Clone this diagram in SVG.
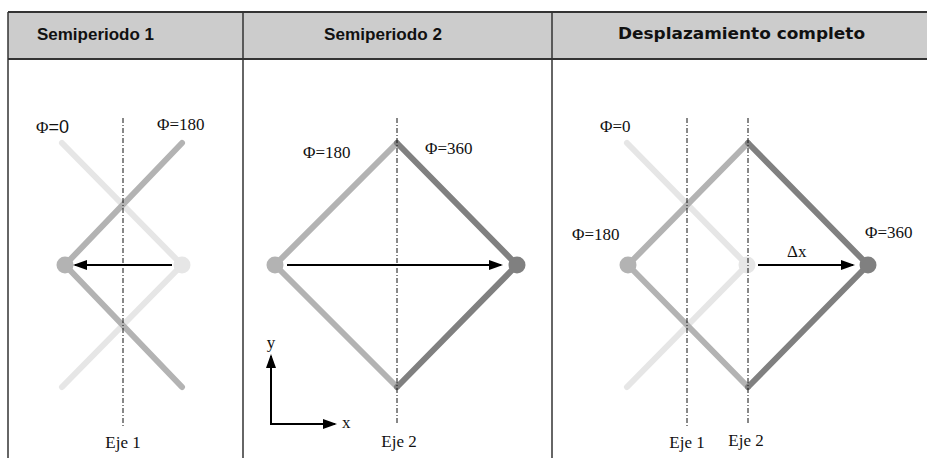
<svg xmlns="http://www.w3.org/2000/svg" width="927" height="458" viewBox="0 0 927 458">
<style>
.frame{stroke:#333;stroke-width:1.5;fill:none}
.hdr{font-family:"Liberation Sans",Arial,sans-serif;font-weight:bold;font-size:16.5px;fill:#111}
.hdr2{font-family:"DejaVu Sans",sans-serif;font-weight:bold;font-size:16px;fill:#111}
.lab{font-family:"Liberation Serif","Times New Roman",serif;font-size:17px;fill:#111}
.axis{stroke:#111;stroke-width:1;stroke-dasharray:5 2 1 2;fill:none}
.bar{stroke-width:6;stroke-linecap:round;stroke-linejoin:round;fill:none}
.l{stroke:#e6e6e6}.m{stroke:#b3b3b3}.d{stroke:#808080}
.arr{stroke:#000;stroke-width:2;fill:none;marker-end:url(#ah)}
</style>
<defs>
<marker id="ah" markerUnits="userSpaceOnUse" markerWidth="14" markerHeight="10" refX="12" refY="5" orient="auto">
<path d="M0,0 L14,5 L0,10 z" fill="#000"/>
</marker>
</defs>
<rect width="927" height="458" fill="#fff"/>
<g id="table">
<rect x="8" y="12" width="925" height="47" fill="#cccccc"/>
<line x1="8" y1="12" x2="927" y2="12" stroke="#333" stroke-width="2"/>
<line x1="8" y1="59" x2="927" y2="59" stroke="#333" stroke-width="2"/>
<line class="frame" x1="8" y1="12" x2="8" y2="458"/>
<line class="frame" x1="243" y1="12" x2="243" y2="458"/>
<line class="frame" x1="552" y1="12" x2="552" y2="458"/>
<text class="hdr" x="37" y="40" textLength="117" lengthAdjust="spacingAndGlyphs">Semiperiodo 1</text>
<text class="hdr" x="324" y="40" textLength="118" lengthAdjust="spacingAndGlyphs">Semiperiodo 2</text>
<text class="hdr2" x="618" y="39" textLength="247" lengthAdjust="spacingAndGlyphs">Desplazamiento completo</text>
</g>
<g id="panel1">
<g id="p1-phi0"><polyline class="bar l" points="62,143 182,265 62,387"/><circle cx="182" cy="265" r="8.5" fill="#e6e6e6"/></g>
<g id="p1-phi180"><polyline class="bar m" points="182,143 65,265 182,387"/><circle cx="65" cy="265" r="8.5" fill="#b3b3b3"/></g>
<line class="axis" x1="123" y1="118" x2="123" y2="427"/>
<text class="lab" x="36" y="133">Φ<tspan font-family="Liberation Sans, Arial, sans-serif" font-size="18">=0</tspan></text>
<text class="lab" x="157" y="130">Φ=180</text>
<text class="lab" x="123" y="448" text-anchor="middle" font-size="16">Eje 1</text>
</g>
<g id="panel2">
<g id="p2-phi180"><polyline class="bar m" points="397,143 275,265 397,387"/><circle cx="275" cy="265" r="8.5" fill="#b3b3b3"/></g>
<g id="p2-phi360"><polyline class="bar d" points="397,143 517,265 397,387"/><circle cx="517" cy="265" r="8.5" fill="#808080"/></g>
<line class="axis" x1="397" y1="118" x2="397" y2="424"/>
<text class="lab" x="303" y="158">Φ=180</text>
<text class="lab" x="425" y="154">Φ=360</text>
<text class="lab" x="399" y="447" text-anchor="middle" font-size="16">Eje 2</text>
<text class="lab" x="271" y="348" text-anchor="middle">y</text>
<text class="lab" x="342" y="428">x</text>
</g>
<g id="panel3">
<g id="p3-phi0"><polyline class="bar l" points="627,143 747,265 627,387"/><circle cx="747" cy="265" r="8.5" fill="#e6e6e6"/></g>
<g id="p3-phi180"><polyline class="bar m" points="748,143 628,265 748,387"/><circle cx="628" cy="265" r="8.5" fill="#b3b3b3"/></g>
<g id="p3-phi360"><polyline class="bar d" points="748,143 868,265 748,387"/><circle cx="868" cy="265" r="8.5" fill="#808080"/></g>
<line class="axis" x1="687" y1="118" x2="687" y2="427"/>
<line class="axis" x1="748" y1="118" x2="748" y2="423"/>
<text class="lab" x="600" y="132">Φ=0</text>
<text class="lab" x="572" y="240">Φ=180</text>
<text class="lab" x="865" y="238">Φ=360</text>
<text class="lab" x="787" y="257" font-size="18">Δx</text>
<text class="lab" x="687" y="448" text-anchor="middle" font-size="16">Eje 1</text>
<text class="lab" x="746" y="446" text-anchor="middle" font-size="16">Eje 2</text>
</g>
<g id="connectors">
<line class="arr" x1="172" y1="265" x2="75" y2="265"/>
<line class="arr" x1="287" y1="265" x2="501" y2="265"/>
<line class="arr" x1="758" y1="265" x2="853" y2="265"/>
<line class="arr" x1="271" y1="424" x2="271" y2="356"/>
<line class="arr" x1="270" y1="424" x2="335" y2="424"/>
</g>
</svg>
